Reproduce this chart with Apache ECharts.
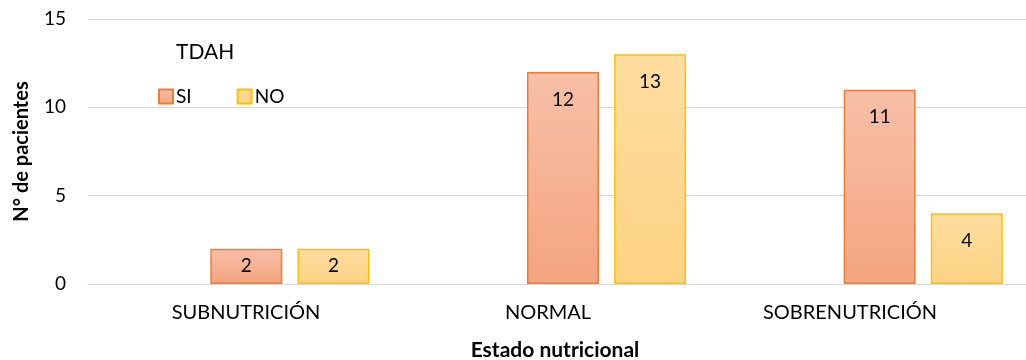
<!DOCTYPE html>
<html><head><meta charset="utf-8">
<script src="https://cdn.jsdelivr.net/npm/echarts@6/dist/echarts.min.js"></script>
<style>html,body{margin:0;padding:0;background:#fff}#c{width:1026px;height:360px}</style>
</head><body><div id="c"></div>
<script>
const categories = ['SUBNUTRICIÓN', 'NORMAL', 'SOBRENUTRICIÓN'];
const siValues = [2, 12, 11];
const noValues = [2, 13, 4];
const yTicks = [0, 5, 10, 15];
const legendTitle = 'TDAH';
const yTitle = 'N° de pacientes';
const xTitle = 'Estado nutricional';

const FONT = 'Lato, Carlito, "Open Sans", sans-serif';
const chart = echarts.init(document.getElementById('c'));

function grad(top, bottom) {
  return new echarts.graphic.LinearGradient(0, 0, 0, 1, [
    {offset: 0, color: top}, {offset: 1, color: bottom}
  ]);
}
function mkData(vals) {
  return vals.map(v => ({
    value: v,
    label: v <= 2 ? {position: 'inside'} : {position: 'insideTop', distance: 18}
  }));
}
const labelStyle = {show: true, color: '#000', fontSize: 19, fontFamily: FONT};

chart.setOption({
  animation: false,
  grid: [
    {left: 88, width: 950, top: 19, bottom: 76, outerBoundsMode: 'none', containLabel: false},
    {left: 95, right: 25, top: 19, bottom: 76, outerBoundsMode: 'none', containLabel: false}
  ],
  legend: {
    data: ['SI', 'NO'],
    left: 153, top: 82,
    itemWidth: 14, itemHeight: 14, itemGap: 45,
    icon: 'rect',
    textStyle: {fontSize: 19, fontFamily: FONT, color: '#000', padding: [0, 0, 0, -2]}
  },
  graphic: [
    {type: 'text', left: 176, top: 42, style: {text: legendTitle, fontSize: 21, fontFamily: FONT, fill: '#000'}},
    {type: 'text', x: 555, y: 350, style: {text: xTitle, fontSize: 21, fontWeight: 'bold', fontFamily: FONT, fill: '#000', align: 'center', verticalAlign: 'middle'}}
  ],
  xAxis: [
    {type: 'category', data: categories, gridIndex: 0,
     axisLine: {lineStyle: {color: '#d9d9d9', width: 1}}, axisTick: {show: false}, axisLabel: {show: false}},
    {type: 'category', data: categories, gridIndex: 1,
     axisLine: {show: false}, axisTick: {show: false},
     axisLabel: {fontSize: 20, fontFamily: FONT, color: '#000', margin: 19}}
  ],
  yAxis: [
    {type: 'value', min: yTicks[0], max: yTicks[yTicks.length - 1], interval: yTicks[1] - yTicks[0], gridIndex: 0,
     name: yTitle, nameLocation: 'middle', nameGap: 56, nameRotate: 90,
     nameTextStyle: {fontSize: 20, fontWeight: 'bold', fontFamily: FONT, color: '#000', padding: [0, 0, 0, 0]},
     axisLine: {show: false}, axisTick: {show: false},
     axisLabel: {fontSize: 19, fontFamily: FONT, color: '#000', margin: 22},
     splitLine: {lineStyle: {color: '#d9d9d9', width: 1}}},
    {type: 'value', min: 0, max: 15, gridIndex: 1, show: false}
  ],
  series: [
    {name: '_', type: 'bar', xAxisIndex: 0, yAxisIndex: 0, data: [null, null, null], barWidth: 72, barGap: '21%'},
    {name: 'SI', type: 'bar', xAxisIndex: 0, yAxisIndex: 0, data: mkData(siValues), barWidth: 72, barGap: '21%',
     itemStyle: {color: grad('#f7c0a8', '#f4a47f'), borderColor: '#ed7d31', borderWidth: 1.5},
     label: labelStyle},
    {name: 'NO', type: 'bar', xAxisIndex: 0, yAxisIndex: 0, data: mkData(noValues), barWidth: 72, barGap: '21%',
     itemStyle: {color: grad('#fedda0', '#fdd384'), borderColor: '#ffc000', borderWidth: 1.5},
     label: labelStyle}
  ]
});
</script></body></html>
